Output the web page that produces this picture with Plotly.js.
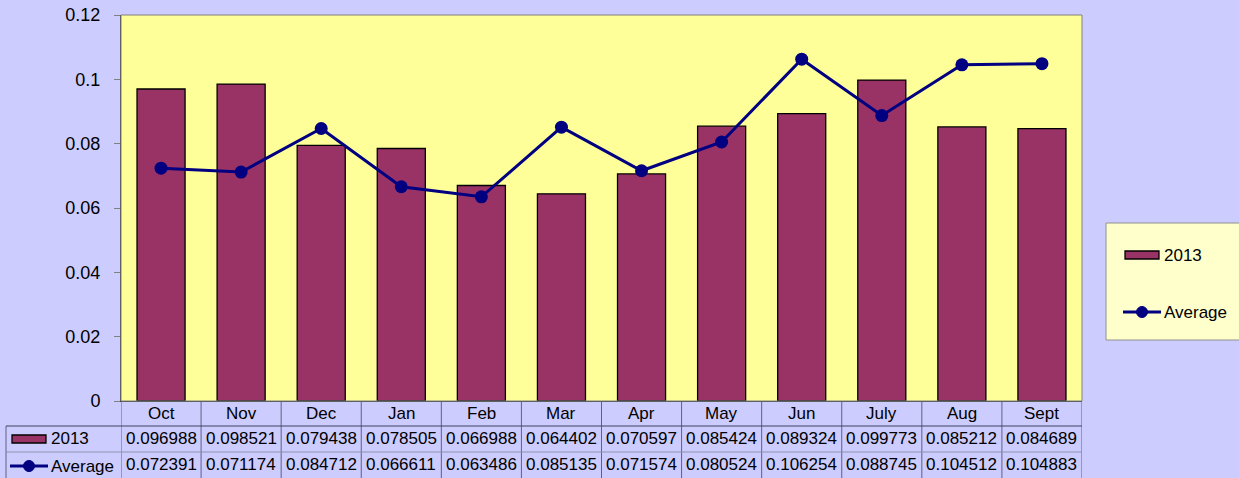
<!DOCTYPE html>
<html>
<head>
<meta charset="utf-8">
<script src="https://cdn.plot.ly/plotly-3.0.1.min.js"></script>
<style>
  html, body { margin: 0; padding: 0; background: #CCCCFF; }
  #chart { width: 1239px; height: 478px; }
</style>
</head>
<body>
<div id="chart"></div>
<script>
// Monthly values, October through September
const months = ["Oct", "Nov", "Dec", "Jan", "Feb", "Mar", "Apr", "May", "Jun", "July", "Aug", "Sept"];
const values2013 = [0.096988, 0.098521, 0.079438, 0.078505, 0.066988, 0.064402, 0.070597, 0.085424, 0.089324, 0.099773, 0.085212, 0.084689];
const valuesAverage = [0.072391, 0.071174, 0.084712, 0.066611, 0.063486, 0.085135, 0.071574, 0.080524, 0.106254, 0.088745, 0.104512, 0.104883];
const seriesNames = ["2013", "Average"];
const yTicks = [0, 0.02, 0.04, 0.06, 0.08, 0.1, 0.12];

const BAR_COLOR = "#993366";
const LINE_COLOR = "#000080";
const FONT = "Liberation Sans, Arial, sans-serif";

// Figure geometry (pixels) used to place the data table and legend
const W = 1239, H = 478;
const M = { l: 121, r: 157, t: 15, b: 77 };
const plotW = W - M.l - M.r;
const plotH = H - M.t - M.b;
const px = x => (x - M.l) / plotW;          // pixel column -> paper x
const py = y => (H - M.b - y) / plotH;      // pixel row -> paper y

const idx = months.map((_, i) => i);

const traces = [
  {
    type: "bar",
    name: seriesNames[0],
    x: idx,
    y: values2013,
    width: 0.6,
    marker: { color: BAR_COLOR, line: { color: "#000000", width: 1.3 } },
    showlegend: false,
    hoverinfo: "y"
  },
  {
    type: "scatter",
    mode: "lines+markers",
    name: seriesNames[1],
    x: idx,
    y: valuesAverage,
    line: { color: LINE_COLOR, width: 3 },
    marker: { color: LINE_COLOR, size: 13 },
    showlegend: false,
    hoverinfo: "y"
  }
];

const shapes = [];
const annotations = [];
const gridColor = "#606080";

// Plot area border
shapes.push({ type: "rect", xref: "paper", yref: "paper", x0: 0, x1: 1, y0: 0, y1: 1,
  line: { color: "#808080", width: 1 }, layer: "above" });

// Data table: header row (months), then one row per series
const headerCenter = 414;
const rowTop1 = 426, rowTop2 = 452, tableBottom = 478, tableLeft = 6;
const rowCenters = [439, 465];

// column separators run from the axis down through the table
for (let i = 0; i <= months.length; i++) {
  shapes.push({ type: "line", xref: "x", yref: "paper", x0: i - 0.5, x1: i - 0.5,
    y0: 0, y1: py(tableBottom + 2), line: { color: gridColor, width: 1 } });
}
shapes.push({ type: "line", xref: "paper", yref: "paper", x0: px(tableLeft), x1: px(tableLeft),
  y0: py(rowTop1), y1: py(tableBottom + 2), line: { color: gridColor, width: 1 } });
[rowTop1, rowTop2].forEach((r, k) => {
  shapes.push({ type: "line", xref: "paper", yref: "paper", x0: px(tableLeft), x1: 1,
    y0: py(r), y1: py(r), line: { color: k === 0 ? "#404060" : "#9090b0", width: 1 } });
});

// Month header labels
months.forEach((m, i) => {
  annotations.push({ xref: "x", yref: "paper", x: i, y: py(headerCenter),
    text: m, showarrow: false, xanchor: "center", yanchor: "middle",
    font: { family: FONT, size: 17, color: "#000000" } });
});

// Cell values
const rows = [values2013, valuesAverage];
rows.forEach((vals, r) => {
  vals.forEach((v, i) => {
    annotations.push({ xref: "x", yref: "paper", x: i, y: py(rowCenters[r]),
      text: v.toFixed(6), showarrow: false, xanchor: "center", yanchor: "middle",
      font: { family: FONT, size: 17, color: "#000000" } });
  });
});

// Series keys drawn in the table row headers and in the side legend
function addKeys(xStart, yBar, yLine) {
  // bar key
  shapes.push({ type: "rect", xref: "paper", yref: "paper",
    x0: px(xStart + 1), x1: px(xStart + 35), y0: py(yBar - 4), y1: py(yBar + 4),
    fillcolor: BAR_COLOR, line: { color: "#000000", width: 1.3 } });
  // line key
  shapes.push({ type: "line", xref: "paper", yref: "paper",
    x0: px(xStart - 1), x1: px(xStart + 37), y0: py(yLine), y1: py(yLine),
    line: { color: LINE_COLOR, width: 3 } });
  const cx = xStart + 18, r = 5.5;
  shapes.push({ type: "circle", xref: "paper", yref: "paper",
    x0: px(cx - r), x1: px(cx + r), y0: py(yLine + r), y1: py(yLine - r),
    fillcolor: LINE_COLOR, line: { color: LINE_COLOR, width: 1 } });
  annotations.push({ xref: "paper", yref: "paper", x: px(xStart + 38), y: py(yBar),
    text: seriesNames[0], showarrow: false, xanchor: "left", yanchor: "middle",
    font: { family: FONT, size: 17, color: "#000000" } });
  annotations.push({ xref: "paper", yref: "paper", x: px(xStart + 38), y: py(yLine),
    text: seriesNames[1], showarrow: false, xanchor: "left", yanchor: "middle",
    font: { family: FONT, size: 17, color: "#000000" } });
}

// side legend box
shapes.push({ type: "rect", xref: "paper", yref: "paper",
  x0: px(1106), x1: px(1245), y0: py(340), y1: py(223),
  fillcolor: "#FFFFCC", line: { color: "#909090", width: 1 } });
addKeys(1124, 255, 312);
addKeys(11, 439, 466);

const layout = {
  width: W,
  height: H,
  margin: M,
  paper_bgcolor: "#CCCCFF",
  plot_bgcolor: "#FFFF99",
  showlegend: false,
  bargap: 0.4,
  font: { family: FONT, size: 17, color: "#000000" },
  xaxis: {
    range: [-0.5, months.length - 0.5],
    tickmode: "array",
    tickvals: idx,
    ticktext: months,
    showticklabels: false,
    ticks: "",
    showgrid: false,
    zeroline: false,
    showline: true,
    linecolor: "#404040",
    linewidth: 1,
    fixedrange: true
  },
  yaxis: {
    range: [0, 0.12],
    tickmode: "array",
    tickvals: yTicks,
    ticktext: yTicks.map(v => String(v)),
    ticks: "outside",
    ticklen: 6,
    tickcolor: "#808080",
    ticklabelstandoff: 10,
    showgrid: false,
    zeroline: false,
    showline: true,
    linecolor: "#404040",
    linewidth: 1,
    tickfont: { family: FONT, size: 18, color: "#000000" },
    fixedrange: true
  },
  shapes: shapes,
  annotations: annotations
};

Plotly.newPlot("chart", traces, layout, { displayModeBar: false, staticPlot: true });
</script>
</body>
</html>
